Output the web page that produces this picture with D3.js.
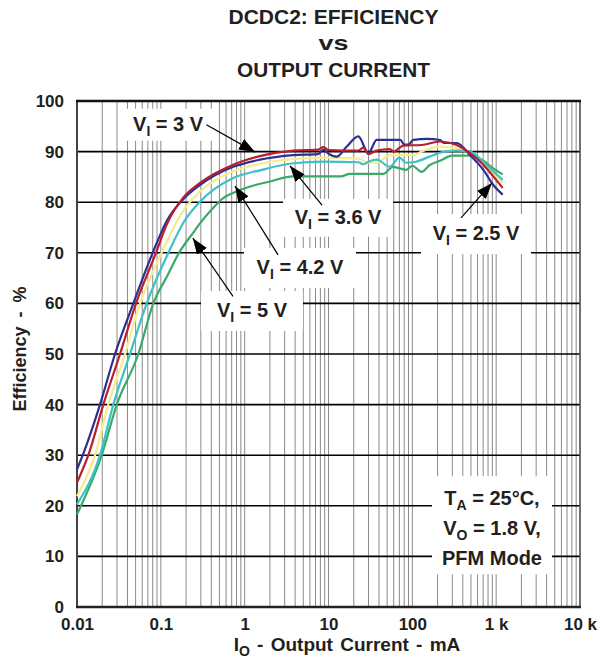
<!DOCTYPE html>
<html>
<head>
<meta charset="utf-8">
<script src="https://cdn.jsdelivr.net/npm/d3@7"></script>
<style>
  body { margin: 0; background: #fff; }
  svg { font-family: "Liberation Sans", Arial, Helvetica, sans-serif; font-weight: bold; }
</style>
</head>
<body>
<div id="chart"></div>
<script>
// efficiency curves, [output current mA, efficiency %]
const vi25 = [[0.01,27.2],[0.0117,30],[0.0188,40],[0.0284,50],[0.047,60],[0.08,70],[0.1175,76.3],[0.185,80.6],[0.293,83.4],[0.73,87.0],[1.52,88.4],[3.8,89.3],[7.5,89.5],[8.7,90.4],[10,89.6],[12.5,89.0],[16.5,91.0],[22.7,93.0],[29.9,89.7],[37.6,92.3],[59,92.3],[72,92.3],[80,91.4],[90,91.4],[103,92.3],[150,92.5],[214,92.3],[240,91.7],[338,91.7],[488,89.3],[703,86.4],[925,83.4],[1197,81.5]];
const vi30 = [[0.01,24.6],[0.01365,30],[0.0206,40],[0.0326,50],[0.0506,60],[0.0875,70],[0.1175,75.6],[0.185,80.9],[0.293,83.8],[0.73,87.4],[1.52,89.1],[3.8,90.2],[7.5,90.4],[8.7,90.9],[10,90.3],[22.7,90.2],[26,90.8],[29.9,89.5],[37.6,90.2],[54,90.5],[60,90.0],[78,91.2],[129,91.3],[214,92.0],[338,91.3],[488,89.7],[703,87.4],[925,85.1],[1197,82.8]];
const vi36 = [[0.01,21.9],[0.0164,30],[0.0236,40],[0.0374,50],[0.0565,60],[0.102,70],[0.185,78.3],[0.293,82.1],[0.73,86.1],[1.52,87.6],[3.8,88.5],[8.7,88.8],[22.7,88.6],[29.9,87.8],[37.6,87.8],[54,89.3],[103,89.3],[129,90.0],[214,91.0],[338,90.7],[488,89.7],[703,87.7],[925,85.7],[1197,83.8]];
const vi42 = [[0.01,20.3],[0.0188,30],[0.0271,40],[0.0429,50],[0.0678,60],[0.123,70],[0.185,75.9],[0.293,80.1],[0.73,84.8],[1.52,86.3],[3.8,87.7],[8.7,88.0],[22.7,87.9],[26,87.5],[29.9,88.0],[37.6,88.4],[54,87.0],[70,88.8],[85,87.8],[110,88.0],[160,89.0],[240,90.0],[338,90.2],[488,90.0],[703,88.0],[925,86.1],[1197,84.4]];
const vi50 = [[0.01,18.3],[0.0197,30],[0.0298,40],[0.0539,50],[0.0813,60],[0.12,65.5],[0.165,70],[0.244,74],[0.293,75.8],[0.387,78.2],[0.555,80.8],[0.8,82.1],[1.16,83.1],[2.0,84.1],[3.8,85.1],[14,85.1],[18,85.6],[45,85.6],[59,87.0],[70,86.7],[85,86.4],[100,87.2],[129,86.0],[160,87.3],[214,88.2],[300,89.2],[488,89.2],[600,88.8],[703,88.2],[925,86.7],[1197,85.5]];

const xTicks = [0.01, 0.1, 1, 10, 100, 1000, 10000];
const xTickLabels = ["0.01", "0.1", "1", "10", "100", "1 k", "10 k"];
const yTicks = [0, 10, 20, 30, 40, 50, 60, 70, 80, 90, 100];

const titleLines = ["DCDC2: EFFICIENCY", "vs", "OUTPUT CURRENT"];
const conditions = [["T", "A", " = 25°C,"], ["V", "O", " = 1.8 V,"], ["", "", "PFM Mode"]];

const width = 600, height = 661;
const svg = d3.select("#chart").append("svg")
    .attr("width", width)
    .attr("height", height);

const x = d3.scaleLog().domain([0.01, 10000]).range([77, 580]);
const y = d3.scaleLinear().domain([0, 100]).range([607, 101]);

// vertical log grid
const minor = [];
for (let d = 0.01; d < 10000; d *= 10) {
    for (let k = 1; k < 10; k++) minor.push(d * k);
}
minor.push(10000);

svg.append("g").selectAll("line")
    .data(minor)
    .join("line")
    .attr("x1", d => x(d)).attr("x2", d => x(d))
    .attr("y1", y(0)).attr("y2", y(100))
    .attr("stroke", "#8a8a8a")
    .attr("stroke-width", 1);

svg.append("g").selectAll("line")
    .data(yTicks)
    .join("line")
    .attr("x1", x(0.01)).attr("x2", x(10000))
    .attr("y1", d => y(d)).attr("y2", d => y(d))
    .attr("stroke", "#000")
    .attr("stroke-width", 1.6);

// frame
svg.append("line").attr("x1", x(10000)).attr("x2", x(10000)).attr("y1", y(0)).attr("y2", y(100))
    .attr("stroke", "#555").attr("stroke-width", 1.5);
svg.append("line").attr("x1", x(0.01)).attr("x2", x(0.01)).attr("y1", y(0)).attr("y2", y(100))
    .attr("stroke", "#444").attr("stroke-width", 2);
svg.append("line").attr("x1", x(0.01) - 1).attr("x2", x(10000) + 1).attr("y1", y(100)).attr("y2", y(100))
    .attr("stroke", "#111").attr("stroke-width", 2.5);
svg.append("line").attr("x1", x(0.01) - 1).attr("x2", x(10000) + 1).attr("y1", y(0)).attr("y2", y(0))
    .attr("stroke", "#222").attr("stroke-width", 2.5);

// annotation boxes (white, they hide the grid behind the labels)
const notes = [
    { v: "3 V",   at: [0.122, 95.3],  w: 90,  h: 32, from: [0.35, 95.3],  to: [1.33, 89.9] },
    { v: "3.6 V", at: [13.0, 76.9],   w: 110, h: 38, from: [8.37, 79.4],  to: [3.47, 87.2] },
    { v: "4.2 V", at: [4.57, 67.0],   w: 112, h: 40, from: [2.5, 69.6],   to: [0.767, 83.2] },
    { v: "5 V",   at: [1.223, 58.5],  w: 102, h: 40, from: [0.726, 61.4], to: [0.241, 72.9] },
    { v: "2.5 V", at: [575, 73.7],    w: 110, h: 40, from: [381, 76.9],   to: [892, 83.8] }
];

svg.append("g").selectAll("rect")
    .data(notes)
    .join("rect")
    .attr("x", d => x(d.at[0]) - d.w / 2)
    .attr("y", d => y(d.at[1]) - d.h / 2)
    .attr("width", d => d.w)
    .attr("height", d => d.h)
    .attr("fill", "#fff");

svg.append("rect")
    .attr("x", x(892) - 60).attr("y", y(21.5) - 22)
    .attr("width", 120).attr("height", 98)
    .attr("fill", "#fff");

// curves
const series = [
    { data: vi36, color: "#f7eb8f" },
    { data: vi50, color: "#3aa96a" },
    { data: vi42, color: "#3ec1c4" },
    { data: vi25, color: "#2d2f92" },
    { data: vi30, color: "#b81f2e" }
];

const line = d3.line()
    .x(d => x(d[0]))
    .y(d => y(d[1]))
    .curve(d3.curveMonotoneX);

svg.append("g").selectAll("path")
    .data(series)
    .join("path")
    .attr("d", d => line(d.data))
    .attr("fill", "none")
    .attr("stroke", d => d.color)
    .attr("stroke-width", 2.2)
    .attr("stroke-linejoin", "round");

// arrows
svg.append("defs").append("marker")
    .attr("id", "head")
    .attr("viewBox", "0 0 16 12")
    .attr("refX", 16).attr("refY", 6)
    .attr("markerWidth", 16).attr("markerHeight", 12)
    .attr("markerUnits", "userSpaceOnUse")
    .attr("orient", "auto")
    .append("path")
    .attr("d", "M0,0 L16,6 L0,12 Z")
    .attr("fill", "#000");

svg.append("g").selectAll("line")
    .data(notes)
    .join("line")
    .attr("x1", d => x(d.from[0])).attr("y1", d => y(d.from[1]))
    .attr("x2", d => x(d.to[0])).attr("y2", d => y(d.to[1]))
    .attr("stroke", "#000")
    .attr("stroke-width", 1.2)
    .attr("marker-end", "url(#head)");

const noteText = svg.append("g").selectAll("text")
    .data(notes)
    .join("text")
    .attr("x", d => x(d.at[0]))
    .attr("y", d => y(d.at[1]) + 6)
    .attr("text-anchor", "middle")
    .attr("font-size", 20)
    .attr("fill", "#231f20");
noteText.append("tspan").text("V");
noteText.append("tspan").attr("dy", 5).attr("font-size", 14).text("I");
noteText.append("tspan").attr("dy", -5).text(d => " = " + d.v);

// test conditions
const cond = svg.append("g").selectAll("text")
    .data(conditions)
    .join("text")
    .attr("x", x(892))
    .attr("y", (d, i) => y(21.5) + 7 + i * 30)
    .attr("text-anchor", "middle")
    .attr("font-size", 20)
    .attr("fill", "#231f20");
cond.append("tspan").text(d => d[0]);
cond.append("tspan").attr("dy", 5).attr("font-size", 14).text(d => d[1]);
cond.append("tspan").attr("dy", d => d[1] ? -5 : 0).text(d => d[2]);

// axes
const yAxis = svg.append("g")
    .attr("transform", `translate(${x(0.01)},0)`)
    .call(d3.axisLeft(y).tickValues(yTicks).tickSize(0).tickPadding(13));
yAxis.select(".domain").remove();
yAxis.selectAll("text").attr("font-size", 17).attr("font-family", null).attr("fill", "#231f20");

const xAxis = svg.append("g")
    .attr("transform", `translate(0,${y(0)})`)
    .call(d3.axisBottom(x).tickValues(xTicks).tickSize(0).tickPadding(11)
        .tickFormat((d, i) => xTickLabels[i]));
xAxis.select(".domain").remove();
xAxis.selectAll("text").attr("font-size", 17).attr("font-family", null).attr("fill", "#231f20");

// titles: condensed bold in the original, so squeeze to the measured widths
const titleWidths = [210, 30, 193];
const titleBase = [23.5, 50, 77];
svg.append("g").selectAll("text")
    .data(titleLines)
    .join("text")
    .attr("x", 333.5)
    .attr("y", (d, i) => titleBase[i])
    .attr("text-anchor", "middle")
    .attr("font-size", 21)
    .attr("textLength", (d, i) => titleWidths[i])
    .attr("lengthAdjust", "spacingAndGlyphs")
    .attr("fill", "#231f20")
    .text(d => d);

const xt = svg.append("text")
    .attr("x", 347).attr("y", 651)
    .attr("text-anchor", "middle")
    .attr("font-size", 19)
    .attr("word-spacing", 2)
    .attr("fill", "#231f20");
xt.append("tspan").text("I");
xt.append("tspan").attr("dy", 5).attr("font-size", 14).text("O");
xt.append("tspan").attr("dy", -5).text(" - Output Current - mA");

svg.append("text")
    .attr("transform", "translate(26,349) rotate(-90)")
    .attr("text-anchor", "middle")
    .attr("font-size", 18)
    .attr("word-spacing", 4)
    .attr("fill", "#231f20")
    .text("Efficiency - %");
</script>
</body>
</html>
